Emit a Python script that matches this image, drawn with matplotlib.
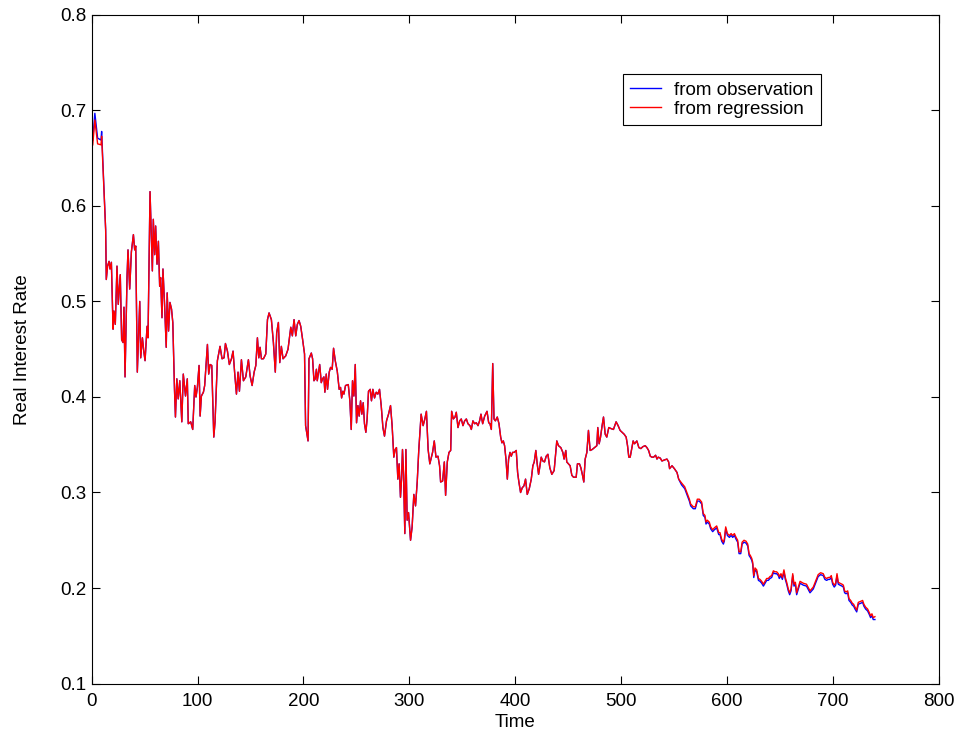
import matplotlib
matplotlib.use("Agg")
import matplotlib.pyplot as plt

plt.rcParams['font.family'] = ['Liberation Sans', 'DejaVu Sans']

# start of the series: the two curves differ a little
t_head = [1, 3, 5.6, 8.8, 9.4, 11.6]
obs_head = [0.669, 0.697, 0.671, 0.669, 0.678, 0.617]
reg_head = [0.664, 0.690, 0.665, 0.664, 0.673, 0.615]

# middle part: both curves coincide at picture resolution
t_mid = [
    13.2, 13.8, 15, 16.4, 17.3, 18.6, 20.2, 21, 22.3, 23.9,
    25.1, 27, 28.3, 29.6, 30.5, 31.5, 33.4, 34.3, 35.9, 37.5,
    39.4, 40.6, 41.6, 43.1, 45.4, 46.3, 47.9, 49.2, 50.4, 52.3,
    53.2, 55.1, 57.3, 58.2, 59.5, 60.4, 61.7, 63, 64.2, 65.1,
    66.4, 67.3, 68.9, 70.4, 71.3, 72.6, 73.9, 75.4, 76.6, 78.2,
    79.1, 80.4, 81.7, 83.2, 85.1, 86.5, 88.6, 90.3, 91.2, 93.5,
    95.4, 97.3, 98.5, 99.8, 101.4, 102.4, 103.6, 105.5, 106.7, 109.3,
    110.5, 111.8, 113.4, 115.3, 116.5, 118.7, 121.2, 123.1, 125, 126.3,
    128.2, 130, 132, 133.5, 135.1, 136.7, 138.2, 139.5, 141.4, 143.3,
    145.5, 148, 149.6, 151.5, 153.4, 155, 156.5, 157.8, 159, 160.3,
    162.2, 164.4, 166, 167.5, 169.7, 171.6, 173.4, 174.7, 176.3, 177.6,
    179.1, 180.7, 183.2, 185.4, 188, 189.5, 191.1, 192.7, 194.2, 195.8,
    197.4, 199.2, 201, 202, 204.3, 205.2, 207.4, 208.6, 209.9, 211.1,
    212.2, 213, 215.3, 216.8, 218, 219.3, 220.2, 221.5, 222.7, 224.3,
    225.6, 227.1, 228.4, 230, 231.9, 233.7, 235, 236, 237.2, 238.2,
    239.7, 242.3, 243.8, 245.1, 246.3, 247.6, 248.9, 250.1, 251.4, 252.6,
    253.9, 255.1, 256.4, 257.6, 258.9, 260.1, 261.4, 263, 264.2, 265.5,
    267.1, 268.7, 270.2, 271.8, 273.4, 275, 276.5, 278.4, 280.3, 282.2,
    283.7, 285.3, 286.6, 287.8, 289.1, 290.3, 291.6, 292.6, 293.5, 294.5,
    295.7, 296.7, 297.9, 299.2, 301.1, 302.6, 304.2, 305.8, 307.4, 308.9,
    311.1, 313, 314.6, 316.1, 317.7, 319.3, 321.9, 323.5, 325.1, 327,
    328.5, 329.5, 331.4, 333, 334.2, 335.8, 337.4, 339, 339.9, 341.5,
    343.1, 344.3, 345.9, 347.5, 349, 350.6, 352.2, 353.8, 355.3, 357.2,
    358.5, 360, 361.6, 363.2, 364.8, 366.3, 367.6, 369.2, 371.1, 373.3,
    374.9, 376.1, 377.4, 378.7, 379.9, 381.2, 383, 384.6, 386.2, 387.4,
    388.7, 389.9, 391.2, 392.5, 393.7, 395, 396.2, 397.5, 399, 400.9,
    402.2, 403.4, 405, 406.6, 408.2, 409.7, 411.3, 413.2, 415.1, 416.6,
    417.9, 419.4, 420.7, 422, 422.9, 424.5, 426, 427.6, 429.2, 430.8,
    432.6, 434.5, 436.7, 439.2, 440.8, 443, 444.9, 446.1, 447.7, 448.6,
    450.2, 451.8, 453.4, 455, 457.5, 458.7, 460.6, 461.9, 463.5, 464.7,
    466, 467.6, 469.1, 470.7, 472.6, 474.8, 477, 477.9, 479.2, 480.5,
    482, 483.3, 484.9, 486.4, 488.3, 490.2, 492.7, 495.2, 497.1, 499,
    500.9, 502.8, 504.7, 506, 507.2, 508.5, 510.1, 511.3, 512.6, 514.8,
    516.7, 518.6, 520.5, 522.7, 524.3, 525.9, 527.5, 529, 530.6, 532.5,
    533.8, 535, 536.9, 538.5, 540.7, 543.2, 544.8, 545.7, 548, 550.2,
    552.7, 554.3,
]
rate_mid = [
    0.575, 0.523, 0.537, 0.542, 0.534, 0.541, 0.471, 0.490, 0.476, 0.537,
    0.497, 0.528, 0.460, 0.457, 0.494, 0.421, 0.526, 0.554, 0.513, 0.552,
    0.570, 0.554, 0.558, 0.426, 0.500, 0.441, 0.462, 0.448, 0.438, 0.474,
    0.462, 0.615, 0.532, 0.586, 0.549, 0.579, 0.539, 0.563, 0.516, 0.525,
    0.483, 0.534, 0.495, 0.452, 0.509, 0.469, 0.499, 0.492, 0.478, 0.408,
    0.379, 0.419, 0.398, 0.417, 0.374, 0.424, 0.401, 0.419, 0.372, 0.374,
    0.366, 0.412, 0.400, 0.410, 0.433, 0.380, 0.401, 0.405, 0.412, 0.455,
    0.424, 0.434, 0.433, 0.358, 0.374, 0.438, 0.453, 0.440, 0.441, 0.456,
    0.448, 0.434, 0.440, 0.448, 0.424, 0.403, 0.426, 0.406, 0.439, 0.417,
    0.421, 0.439, 0.422, 0.412, 0.426, 0.433, 0.462, 0.441, 0.452, 0.440,
    0.440, 0.445, 0.481, 0.488, 0.481, 0.457, 0.426, 0.467, 0.478, 0.436,
    0.453, 0.440, 0.443, 0.450, 0.473, 0.464, 0.481, 0.464, 0.476, 0.480,
    0.474, 0.460, 0.445, 0.370, 0.354, 0.440, 0.446, 0.440, 0.417, 0.419,
    0.429, 0.417, 0.434, 0.415, 0.419, 0.421, 0.405, 0.424, 0.408, 0.426,
    0.431, 0.429, 0.451, 0.438, 0.427, 0.408, 0.410, 0.399, 0.406, 0.403,
    0.412, 0.413, 0.396, 0.366, 0.417, 0.401, 0.434, 0.373, 0.391, 0.380,
    0.396, 0.382, 0.394, 0.372, 0.363, 0.377, 0.406, 0.408, 0.396, 0.408,
    0.399, 0.405, 0.403, 0.408, 0.391, 0.368, 0.359, 0.375, 0.382, 0.391,
    0.370, 0.337, 0.345, 0.347, 0.314, 0.330, 0.295, 0.314, 0.345, 0.318,
    0.257, 0.345, 0.271, 0.279, 0.250, 0.264, 0.298, 0.286, 0.311, 0.345,
    0.382, 0.370, 0.377, 0.385, 0.345, 0.330, 0.342, 0.354, 0.337, 0.338,
    0.328, 0.311, 0.312, 0.332, 0.297, 0.332, 0.342, 0.344, 0.385, 0.377,
    0.379, 0.384, 0.368, 0.375, 0.377, 0.370, 0.375, 0.377, 0.372, 0.370,
    0.366, 0.375, 0.372, 0.373, 0.370, 0.375, 0.382, 0.372, 0.380, 0.385,
    0.373, 0.372, 0.366, 0.435, 0.377, 0.375, 0.379, 0.372, 0.358, 0.352,
    0.354, 0.349, 0.335, 0.314, 0.335, 0.342, 0.338, 0.342, 0.342, 0.344,
    0.321, 0.311, 0.300, 0.305, 0.307, 0.314, 0.298, 0.304, 0.314, 0.328,
    0.332, 0.344, 0.330, 0.319, 0.325, 0.337, 0.333, 0.332, 0.338, 0.340,
    0.326, 0.319, 0.323, 0.354, 0.349, 0.347, 0.342, 0.335, 0.344, 0.332,
    0.330, 0.328, 0.318, 0.316, 0.316, 0.330, 0.330, 0.326, 0.318, 0.311,
    0.335, 0.342, 0.365, 0.344, 0.345, 0.347, 0.349, 0.368, 0.351, 0.358,
    0.370, 0.379, 0.361, 0.358, 0.368, 0.367, 0.366, 0.374, 0.370, 0.365,
    0.363, 0.361, 0.358, 0.349, 0.337, 0.337, 0.347, 0.354, 0.351, 0.354,
    0.347, 0.346, 0.348, 0.349, 0.347, 0.344, 0.338, 0.337, 0.337, 0.339,
    0.335, 0.337, 0.336, 0.333, 0.334, 0.335, 0.332, 0.325, 0.328, 0.325,
    0.321, 0.314,
]

# end of the series: regression sits slightly above observation
t_tail = [
    557, 560, 562, 564.4, 565.6, 568.1, 570, 571.9, 573.8, 576,
    577.5, 579.1, 580.1, 581.3, 583.2, 584.5, 586.4, 588, 590.2, 592.1,
    593.3, 594.9, 596.5, 597.4, 598.7, 600.3, 602.2, 603.8, 605.3, 606.9,
    608.5, 610, 611.3, 612.9, 614.2, 616, 617.9, 619.5, 620.8, 622,
    623.3, 624.2, 625.2, 626.4, 628, 629.6, 631.1, 632.7, 634.3, 635.8,
    637.4, 639, 640.5, 642.1, 643.7, 645.3, 646.8, 648.4, 649.3, 650.9,
    652.2, 653.7, 655, 656.3, 657.8, 659.1, 660.4, 662, 663.2, 664.5,
    665.7, 667, 668.9, 672, 675, 678.3, 681.4, 683.9, 686, 688.3,
    690.8, 692.4, 694, 695.5, 697, 698.4, 699.7, 701.2, 702.5, 703.8,
    705, 706.6, 708.5, 709.8, 711, 712.3, 713.9, 715.1, 716.7, 718.3,
    719.5, 720.8, 722.4, 723.9, 726.1, 728, 729.2, 730.8, 732.7, 734,
    735.5, 736.8, 738, 739.6,
]
reg_tail = [
    0.310, 0.306, 0.300, 0.293, 0.288, 0.285, 0.285, 0.293, 0.293, 0.290,
    0.278, 0.276, 0.269, 0.271, 0.269, 0.264, 0.261, 0.263, 0.265, 0.258,
    0.258, 0.251, 0.248, 0.251, 0.264, 0.257, 0.255, 0.257, 0.255, 0.257,
    0.253, 0.250, 0.238, 0.238, 0.248, 0.250, 0.249, 0.246, 0.236, 0.234,
    0.231, 0.227, 0.213, 0.221, 0.219, 0.210, 0.209, 0.207, 0.204, 0.207,
    0.210, 0.210, 0.212, 0.213, 0.218, 0.217, 0.217, 0.215, 0.212, 0.215,
    0.211, 0.219, 0.211, 0.206, 0.199, 0.195, 0.199, 0.215, 0.204, 0.206,
    0.195, 0.200, 0.207, 0.205, 0.204, 0.197, 0.201, 0.208, 0.214, 0.216,
    0.215, 0.211, 0.210, 0.211, 0.211, 0.213, 0.206, 0.203, 0.205, 0.215,
    0.206, 0.205, 0.204, 0.203, 0.197, 0.196, 0.197, 0.189, 0.187, 0.184,
    0.183, 0.180, 0.177, 0.185, 0.186, 0.187, 0.183, 0.180, 0.178, 0.175,
    0.171, 0.173, 0.169, 0.170,
]
obs_tail = [
    0.308, 0.304, 0.298, 0.291, 0.286, 0.283, 0.283, 0.291, 0.291, 0.288,
    0.276, 0.274, 0.267, 0.269, 0.267, 0.262, 0.259, 0.261, 0.263, 0.256,
    0.256, 0.249, 0.246, 0.249, 0.262, 0.255, 0.253, 0.255, 0.253, 0.255,
    0.251, 0.248, 0.236, 0.236, 0.246, 0.248, 0.247, 0.244, 0.234, 0.232,
    0.229, 0.225, 0.211, 0.219, 0.217, 0.208, 0.207, 0.205, 0.202, 0.205,
    0.208, 0.208, 0.210, 0.211, 0.216, 0.215, 0.215, 0.213, 0.210, 0.213,
    0.209, 0.217, 0.209, 0.204, 0.197, 0.193, 0.197, 0.213, 0.202, 0.204,
    0.193, 0.198, 0.205, 0.203, 0.202, 0.195, 0.199, 0.206, 0.212, 0.214,
    0.213, 0.209, 0.208, 0.209, 0.209, 0.211, 0.204, 0.201, 0.203, 0.213,
    0.204, 0.203, 0.202, 0.201, 0.195, 0.194, 0.195, 0.187, 0.185, 0.182,
    0.181, 0.178, 0.175, 0.183, 0.184, 0.185, 0.181, 0.178, 0.176, 0.173,
    0.169, 0.171, 0.167, 0.167,
]

time = t_head + t_mid + t_tail
observation = obs_head + rate_mid + obs_tail
regression = reg_head + rate_mid + reg_tail

x_ticks = [0, 100, 200, 300, 400, 500, 600, 700, 800]
y_ticks = [0.1, 0.2, 0.3, 0.4, 0.5, 0.6, 0.7, 0.8]

fs = 13.5

fig = plt.figure(figsize=(9.6, 7.38), dpi=100)
ax = fig.add_axes([0.0955, 0.0738, 0.8825, 0.906])

ax.plot(time, observation, color='#0000ff', linewidth=1.0, label='from observation')
ax.plot(time, regression, color='#ff0000', linewidth=1.0, label='from regression')

ax.set_xlim(0, 800)
ax.set_ylim(0.1, 0.8)
ax.set_xticks(x_ticks)
ax.set_yticks(y_ticks)
ax.set_yticklabels([f"{v:.1f}" for v in y_ticks])
ax.tick_params(direction='in', length=6, width=0.8, top=True, right=True,
               labelsize=fs)
ax.tick_params(axis='x', pad=7)
ax.tick_params(axis='y', pad=4)
for s in ax.spines.values():
    s.set_linewidth(0.8)

ax.set_xlabel('Time', fontsize=fs, labelpad=3)
ax.set_ylabel('Real Interest Rate', fontsize=fs, labelpad=21)

leg = ax.legend(loc='upper left', bbox_to_anchor=(0.627, 0.911), fontsize=fs,
                fancybox=False, edgecolor='black', framealpha=1,
                handlelength=1.65, handletextpad=0.7, borderpad=0.38,
                labelspacing=0.12, borderaxespad=0)
leg.get_frame().set_linewidth(0.8)

fig.savefig('out.png', dpi=100)
